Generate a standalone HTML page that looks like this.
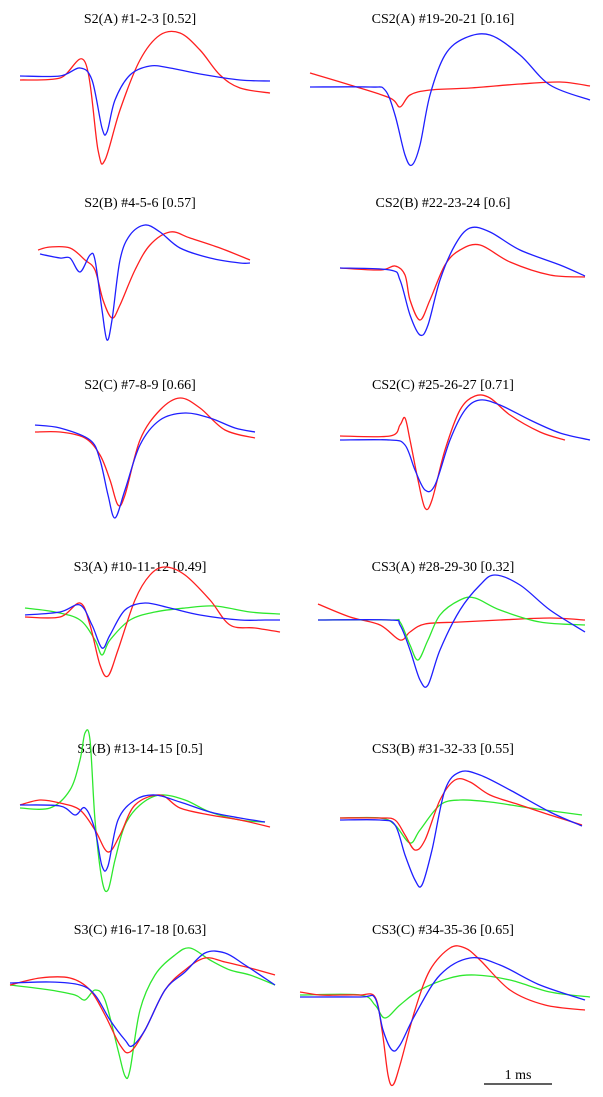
<!DOCTYPE html>
<html><head><meta charset="utf-8">
<style>
html,body{margin:0;padding:0;background:#fff;}
svg{display:block;}
text{font-family:"Liberation Serif",serif;font-size:14px;fill:#000;}
</style></head>
<body>
<svg id="chart" width="603" height="1097" viewBox="0 0 603 1097"></svg>
<script>
// Panel titles
const titles = ["S2(A) #1-2-3 [0.52]","CS2(A) #19-20-21 [0.16]","S2(B) #4-5-6 [0.57]","CS2(B) #22-23-24 [0.6]","S2(C) #7-8-9 [0.66]","CS2(C) #25-26-27 [0.71]","S3(A) #10-11-12 [0.49]","CS3(A) #28-29-30 [0.32]","S3(B) #13-14-15 [0.5]","CS3(B) #31-32-33 [0.55]","S3(C) #16-17-18 [0.63]","CS3(C) #34-35-36 [0.65]"];

// Series data: t = time (panel units), v = amplitude
const p1RedT=[20,60,85,98,105,120,140,160,180,200,220,240,270];
const p1RedV=[-20,-18,-2,-90,-100,-50,0,25,27,10,-15,-28,-33];
const p1BlueT=[20,60,80,92,102,107,115,130,150,170,200,240,270];
const p1BlueV=[-16,-16,-8,-20,-68,-72,-40,-15,-6,-8,-14,-20,-21];

const p2RedT=[15,55,95,105,115,135,175,225,265,295];
const p2RedV=[-13,-25,-38,-47,-35,-30,-28,-24,-22,-26];
const p2BlueT=[15,75,90,100,110,117,125,135,150,170,195,225,255,295];
const p2BlueV=[-27,-27,-30,-55,-95,-105,-85,-35,5,22,25,5,-25,-40];

const p3RedT=[38,50,70,85,95,103,112,120,135,150,170,190,220,250];
const p3RedV=[-6,-3,-4,-16,-26,-56,-74,-61,-26,-1,12,6,-4,-16];
const p3BlueT=[40,60,70,80,90,95,102,107,112,120,130,145,160,180,210,240,250];
const p3BlueV=[-10,-14,-14,-28,-11,-16,-66,-96,-76,-16,9,19,12,-4,-14,-19,-19];

const p4RedT=[45,85,100,110,115,125,135,150,165,185,215,255,290];
const p4RedV=[-24,-26,-22,-31,-56,-76,-56,-21,-6,-1,-18,-31,-33];
const p4BlueT=[45,95,105,115,125,133,145,160,175,195,225,265,290];
const p4BlueV=[-24,-26,-36,-71,-91,-81,-36,-1,16,12,-6,-21,-32];

const p5RedT=[35,60,85,100,110,118,125,140,160,180,200,225,255];
const p5RedV=[-6,-6,-12,-29,-54,-79,-69,-14,16,28,18,-4,-12];
const p5BlueT=[35,60,90,100,108,115,125,140,160,185,210,235,255];
const p5BlueV=[1,-2,-14,-34,-69,-92,-64,-19,6,13,8,-2,-6];

const p6RedT=[45,95,105,110,115,123,130,137,150,165,180,195,215,245,270];
const p6RedV=[-10,-10,1,8,-14,-54,-82,-74,-24,16,30,28,11,-6,-14];
const p6BlueT=[45,95,110,120,130,140,155,170,185,205,235,265,295];
const p6BlueV=[-14,-14,-19,-44,-64,-59,-14,16,26,21,6,-7,-14];

const p7RedT=[25,60,80,90,100,108,118,135,150,165,185,210,230,255,280];
const p7RedV=[-9,-9,5,-17,-57,-68,-42,8,33,41,33,8,-17,-20,-24];
const p7BlueT=[25,60,80,92,102,110,125,145,170,200,240,265,280];
const p7BlueV=[-7,-4,3,-17,-40,-27,-2,5,0,-7,-12,-12,-12];
const p7GreenT=[25,55,80,95,102,110,130,155,185,215,250,280];
const p7GreenV=[0,-4,-12,-32,-47,-32,-12,-4,0,2,-4,-6];

const p8RedT=[23,55,85,105,115,130,165,205,255,290];
const p8RedV=[4,-9,-17,-32,-24,-16,-14,-12,-10,-12];
const p8BlueT=[23,95,105,115,125,133,145,165,185,200,225,255,290];
const p8BlueV=[-12,-12,-17,-42,-72,-77,-42,-2,23,33,23,-2,-24];
const p8GreenT=[23,95,105,115,123,133,145,165,180,205,245,290];
const p8GreenV=[-12,-12,-14,-37,-52,-32,-7,8,10,-2,-14,-17];

const p9RedT=[20,40,60,80,95,108,120,135,160,180,210,240,270];
const p9RedV=[-15,-10,-13,-20,-40,-62,-45,-15,-5,-18,-25,-30,-37];
const p9BlueT=[20,60,75,85,95,102,108,118,135,155,180,210,240,265];
const p9BlueV=[-15,-16,-25,-18,-40,-76,-76,-30,-10,-5,-12,-22,-28,-32];
const p9GreenT=[20,50,70,80,85,90,95,102,108,115,125,140,160,185,210,240,265];
const p9GreenV=[-18,-18,0,30,57,50,-30,-90,-100,-70,-35,-15,-5,-10,-22,-30,-32];

const p10RedT=[45,85,100,110,120,130,145,160,175,195,225,255,287];
const p10RedV=[-28,-28,-30,-45,-60,-50,-10,10,8,-5,-15,-25,-35];
const p10BlueT=[45,85,100,110,120,127,137,150,165,185,215,255,287];
const p10BlueV=[-30,-30,-35,-65,-90,-95,-60,0,18,15,0,-22,-36];
const p10GreenT=[45,85,100,115,125,145,165,195,235,287];
const p10GreenV=[-28,-28,-35,-53,-40,-15,-10,-12,-18,-25];

const p11RedT=[10,40,70,90,105,120,130,145,165,185,205,225,250,275];
const p11RedV=[-14,-7,-7,-19,-44,-74,-81,-59,-19,1,13,9,3,-4];
const p11BlueT=[10,50,80,95,110,125,132,145,165,185,205,225,245,275];
const p11BlueV=[-12,-11,-14,-24,-49,-69,-75,-59,-19,-1,18,18,6,-14];
const p11GreenT=[10,50,75,85,95,105,118,125,130,140,155,175,190,210,230,250,275];
const p11GreenV=[-14,-19,-24,-29,-19,-29,-79,-105,-99,-39,-4,16,23,11,1,-4,-14];

const p12RedT=[5,25,45,65,80,87,93,98,105,120,135,155,170,185,215,250,290];
const p12RedV=[-21,-24,-24,-24,-26,-59,-104,-114,-94,-39,1,23,23,11,-19,-34,-39];
const p12BlueT=[5,65,80,88,97,105,120,145,175,205,245,290];
const p12BlueV=[-26,-26,-27,-59,-79,-74,-44,-4,13,6,-14,-29];
const p12GreenT=[5,65,80,90,105,125,155,180,215,255,295];
const p12GreenV=[-24,-24,-34,-47,-34,-19,-7,-4,-9,-21,-26];

const panels=[
 [["red",p1RedT,p1RedV],["blue",p1BlueT,p1BlueV]],
 [["red",p2RedT,p2RedV],["blue",p2BlueT,p2BlueV]],
 [["red",p3RedT,p3RedV],["blue",p3BlueT,p3BlueV]],
 [["red",p4RedT,p4RedV],["blue",p4BlueT,p4BlueV]],
 [["red",p5RedT,p5RedV],["blue",p5BlueT,p5BlueV]],
 [["red",p6RedT,p6RedV],["blue",p6BlueT,p6BlueV]],
 [["green",p7GreenT,p7GreenV],["red",p7RedT,p7RedV],["blue",p7BlueT,p7BlueV]],
 [["red",p8RedT,p8RedV],["green",p8GreenT,p8GreenV],["blue",p8BlueT,p8BlueV]],
 [["green",p9GreenT,p9GreenV],["red",p9RedT,p9RedV],["blue",p9BlueT,p9BlueV]],
 [["green",p10GreenT,p10GreenV],["red",p10RedT,p10RedV],["blue",p10BlueT,p10BlueV]],
 [["green",p11GreenT,p11GreenV],["red",p11RedT,p11RedV],["blue",p11BlueT,p11BlueV]],
 [["green",p12GreenT,p12GreenV],["red",p12RedT,p12RedV],["blue",p12BlueT,p12BlueV]]
];

const colors={red:"#ff1f1f",blue:"#1f1fff",green:"#2ee82e"};
const rowTops=[0,184,366,548,730,911];
const colLefts=[0,295];
const colCenters=[140,443];
const NS="http://www.w3.org/2000/svg";
const svg=document.getElementById("chart");

function xScale(col,t){return colLefts[col]+t;}
function yScale(row,v){return rowTops[row]+60-v;}

function smoothPath(pts){
  let d="M"+pts[0][0].toFixed(1)+","+pts[0][1].toFixed(1);
  for(let i=0;i<pts.length-1;i++){
    const p0=pts[i-1]||pts[i],p1=pts[i],p2=pts[i+1],p3=pts[i+2]||p2;
    const c1x=p1[0]+(p2[0]-p0[0])/6,c1y=p1[1]+(p2[1]-p0[1])/6;
    const c2x=p2[0]-(p3[0]-p1[0])/6,c2y=p2[1]-(p3[1]-p1[1])/6;
    d+=" C"+c1x.toFixed(1)+","+c1y.toFixed(1)+" "+c2x.toFixed(1)+","+c2y.toFixed(1)+" "+p2[0].toFixed(1)+","+p2[1].toFixed(1);
  }
  return d;
}

panels.forEach((series,i)=>{
  const row=Math.floor(i/2),col=i%2;
  const g=document.createElementNS(NS,"g");
  
  
  svg.appendChild(g);
  const tx=document.createElementNS(NS,"text");
  tx.setAttribute("x",colCenters[col]);
  tx.setAttribute("y",rowTops[row]+23);
  tx.setAttribute("text-anchor","middle");
  tx.textContent=titles[i];
  
  
  g.appendChild(tx);
  series.forEach(s=>{
    const pts=s[1].map((t,k)=>[xScale(col,t),yScale(row,s[2][k])]);
    const p=document.createElementNS(NS,"path");
    p.setAttribute("d",smoothPath(pts));
    p.setAttribute("fill","none");
    p.setAttribute("stroke",colors[s[0]]);
    p.setAttribute("stroke-width","1.3");
    
    
    g.appendChild(p);
  });
});

const sb=document.createElementNS(NS,"line");
sb.setAttribute("x1",484);sb.setAttribute("x2",552);
sb.setAttribute("y1",1084);sb.setAttribute("y2",1084);
sb.setAttribute("stroke","#000");sb.setAttribute("stroke-width","1.2");


svg.appendChild(sb);
const sbt=document.createElementNS(NS,"text");
sbt.setAttribute("x",518);sbt.setAttribute("y",1079);
sbt.setAttribute("text-anchor","middle");
sbt.textContent="1 ms";


svg.appendChild(sbt);
</script>
</body></html>
